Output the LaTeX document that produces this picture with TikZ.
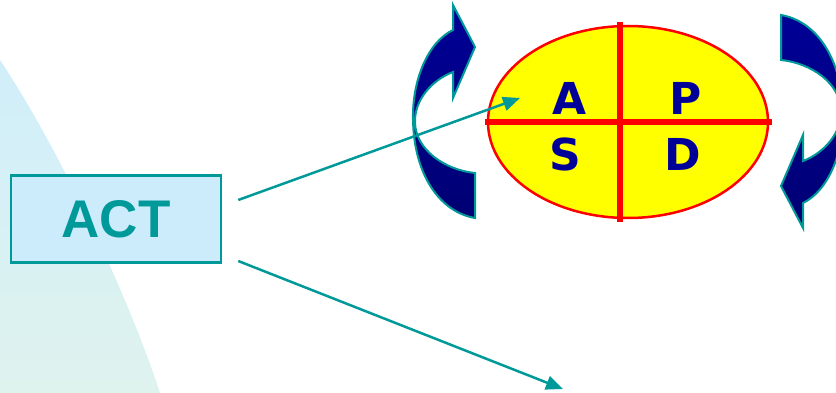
\documentclass[tikz,border=0pt]{standalone}
\usepackage{fontspec}
\setmainfont{Liberation Sans}
\newfontfamily\lettfont{DejaVu Sans}
\usetikzlibrary{arrows.meta,shapes.geometric}

\definecolor{tealline}{RGB}{0,153,153}
\definecolor{actfill}{RGB}{204,236,252}
\definecolor{navyarrow}{RGB}{0,0,150}
\definecolor{navydark}{RGB}{0,0,115}
\definecolor{letterblue}{RGB}{0,0,153}
\definecolor{cycleyellow}{RGB}{255,255,0}
\definecolor{crossred}{RGB}{255,0,0}

\tikzset{
  actbox/.style={draw=tealline, line width=2.5pt, fill=actfill, minimum width=210pt,
    minimum height=87pt, text=tealline, font=\fontsize{53}{53}\selectfont\bfseries},
  link/.style={draw=tealline, line width=2.5pt, -{Triangle[length=17pt,width=14pt]}},
  cyclebody/.style={draw=tealline, line width=2pt, top color=navyarrow, bottom color=navydark},
  quarter/.style={text=letterblue, font=\lettfont\fontsize{44}{44}\selectfont\bfseries},
  cross/.style={draw=crossred, line width=6pt}
}

\begin{document}
\begin{tikzpicture}[x=1pt, y=-1pt]
\useasboundingbox (0,0) rectangle (836,393);
\begin{scope}
\clip (0,0) rectangle (836,393);
% background sweep
\shade[top color={rgb,255:red,208;green,238;blue,250}, bottom color={rgb,255:red,223;green,243;blue,238}]
  (0,60) .. controls (60,150) and (130,300) .. (160,393) -- (0,393) -- cycle;

% turning arrows
\path[cyclebody] (475,218) -- (475,173)
  .. controls (445,170) and (416,150) .. (415,123)
  .. controls (414,100) and (432,80) .. (453,72)
  -- (453,98) -- (475,47) -- (453,5) -- (453,30)
  .. controls (428,42) and (412,80) .. (413,120)
  .. controls (414,175) and (440,212) .. (475,218) -- cycle;
\path[cyclebody, rotate around={180:(628,116.5)}] (475,218) -- (475,173)
  .. controls (445,170) and (416,150) .. (415,123)
  .. controls (414,100) and (432,80) .. (453,72)
  -- (453,98) -- (475,47) -- (453,5) -- (453,30)
  .. controls (428,42) and (412,80) .. (413,120)
  .. controls (414,175) and (440,212) .. (475,218) -- cycle;
\end{scope}

% the cycle
\node[ellipse, draw=crossred, line width=2.5pt, fill=cycleyellow, minimum width=280pt,
  minimum height=192pt] (pdsa) at (628,122) {};
\draw[cross] ([xshift=-2pt]pdsa.west) -- ([xshift=3pt]pdsa.east);
\draw[cross] ([xshift=-8pt,yshift=3pt]pdsa.north) -- ([xshift=-8pt,yshift=-3pt]pdsa.south);
\node[quarter] (qa) at (570,98) {A};
\node[quarter] (qp) at (686,98) {P};
\node[quarter] (qs) at (565,154) {S};
\node[quarter] (qd) at (683,154) {D};

% ACT and its links
\node[actbox] (act) at (116,219) {ACT};
\coordinate (tipA) at (520,98);
\coordinate (tipB) at (563,389);
\draw[link] ([xshift=16pt,yshift=19pt]act.east) -- (tipA);
\draw[link] ([xshift=16pt,yshift=-42pt]act.east) -- (tipB);
\end{tikzpicture}
\end{document}
